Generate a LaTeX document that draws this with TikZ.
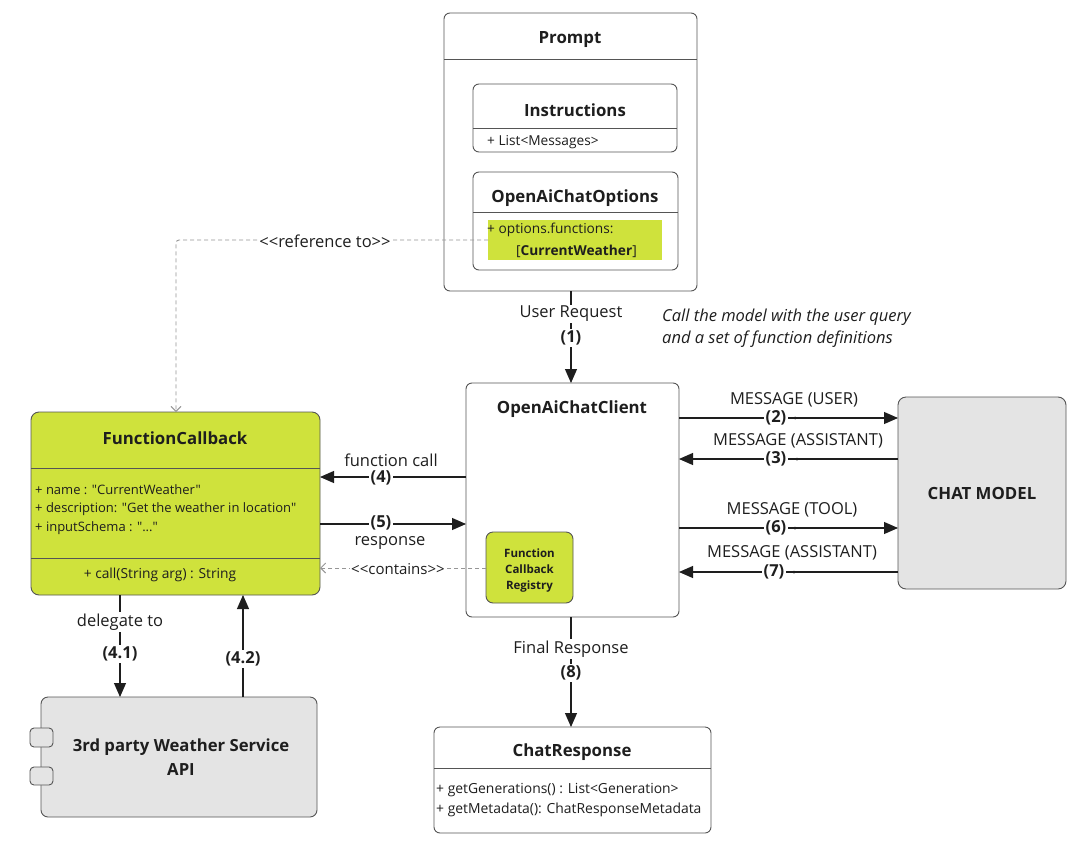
\documentclass[tikz,border=0pt]{standalone}
\usepackage{fontspec}
\setmainfont{Open Sans}[Ligatures=TeXOff]
\usetikzlibrary{arrows.meta,calc}
\definecolor{lime}{RGB}{207,226,60}
\definecolor{edgec}{RGB}{85,85,85}
\definecolor{txt}{RGB}{30,30,30}
\definecolor{grayfill}{RGB}{228,228,228}
\definecolor{dashc}{RGB}{150,150,150}
\begin{document}
\begin{tikzpicture}[x=1pt,y=-1pt,
  box/.style={draw=edgec, line width=0.9pt, rounded corners=6pt, anchor=north west, inner sep=0pt, outer sep=0pt, fill=white},
  ttl/.style={font=\fontsize{16.8}{20}\selectfont\bfseries, text=txt, inner sep=1pt},
  attr/.style={font=\fontsize{13.7}{16}\selectfont, text=txt, anchor=west, inner sep=1pt},
  lbl/.style={font=\fontsize{16.5}{19}\selectfont, text=txt, fill=white, inner sep=1.5pt},
  num/.style={font=\fontsize{16.5}{19}\selectfont\bfseries, text=txt, fill=white, inner sep=1.5pt},
  arr/.style={draw=txt, line width=1.1pt, -{Triangle[length=14pt,width=12pt]}},
  dsh/.style={draw=dashc, line width=0.9pt, dash pattern=on 4pt off 3pt, -{Straight Barb[length=5pt,width=10pt]}},
  tinydot/.style={circle, fill=txt, inner sep=0pt, minimum size=3pt}
]
\useasboundingbox (0,0) rectangle (1080,844);
\fill[white] (0,0) rectangle (1080,844);

% ---------- Prompt ----------
\node[box, minimum width=253pt, minimum height=278pt] (prompt) at (444,13) {};
\draw[edgec, line width=0.9pt] (444,59) -- (697,59);
\node[ttl] (promptT) at (570,40) {Prompt};

\node[box, minimum width=204pt, minimum height=68pt] (instr) at (473,84) {};
\draw[edgec, line width=0.9pt] (473,128) -- (677,128);
\node[ttl] (instrT) at (575,110) {Instructions};
\node[attr] (instrA) at (486,142) {+ List<Messages>};

\node[box, minimum width=205pt, minimum height=98pt] (opts) at (473,172) {};
\draw[edgec, line width=0.9pt] (473,212) -- (678,212);
\node[ttl] (optsT) at (575,198) {OpenAiChatOptions};
\node[fill=lime, anchor=north west, minimum width=174pt, minimum height=40pt, inner sep=0pt] (hl) at (488,220) {};
\node[attr] (hlA) at (486,230) {+ options.functions:};
\node[attr] (hlB) at (515,251) {[\textbf{CurrentWeather}]};

% ---------- OpenAiChatClient ----------
\node[box, minimum width=213pt, minimum height=234pt] (client) at (466,383) {};
\node[ttl] (clientT) at (572,409) {OpenAiChatClient};
\node[box, draw=edgec, fill=lime, minimum width=87pt, minimum height=71pt, rounded corners=7pt] (reg) at (486,532) {};
\node[font=\fontsize{11.5}{16}\selectfont\bfseries, text=txt, align=center] (regT) at (529.5,571) {Function\\Callback\\Registry};

% ---------- Chat model ----------
\node[box, fill=grayfill, minimum width=168pt, minimum height=192pt, rounded corners=8pt] (chat) at (898,397) {};
\node[ttl] (chatT) at (982,493) {CHAT MODEL};

% ---------- FunctionCallback ----------
\node[box, fill=lime, minimum width=289pt, minimum height=183pt, rounded corners=8pt] (fc) at (31,412) {};
\draw[edgec, line width=0.9pt] (31,468) -- (320,468);
\draw[edgec, line width=0.9pt] (31,558) -- (320,558);
\node[ttl] (fcT) at (175,438) {FunctionCallback};
\node[attr, font=\fontsize{13}{15}\selectfont] (fcA) at (34,490) {+ name : "CurrentWeather"};
\node[attr, font=\fontsize{13}{15}\selectfont] (fcB) at (34,509) {+ description: "Get the weather in location"};
\node[attr, font=\fontsize{13}{15}\selectfont] (fcC) at (34,528) {+ inputSchema : "..."};
\node[font=\fontsize{13.8}{16}\selectfont, text=txt] (fcM) at (160,575) {+ call(String arg) : String};

% ---------- Weather service ----------
\node[box, fill=grayfill, minimum width=276pt, minimum height=120pt, rounded corners=7pt] (weather) at (41,697) {};
\node[box, fill=grayfill, minimum width=23pt, minimum height=19pt, rounded corners=4pt] (tab1) at (30,728) {};
\node[box, fill=grayfill, minimum width=23pt, minimum height=18pt, rounded corners=4pt] (tab2) at (30,767) {};
\node[ttl, align=center, font=\fontsize{16.7}{24}\selectfont\bfseries] (weatherT) at (181,757) {3rd party Weather Service\\API};

% ---------- ChatResponse ----------
\node[box, minimum width=277pt, minimum height=106pt] (resp) at (434,727) {};
\draw[edgec, line width=0.9pt] (434,768) -- (711,768);
\node[ttl] (respT) at (572,752) {ChatResponse};
\node[attr, font=\fontsize{13.9}{16}\selectfont] (respA) at (435,790) {+ getGenerations() : List<Generation>};
\node[attr, font=\fontsize{13.9}{16}\selectfont] (respB) at (435,810) {+ getMetadata(): ChatResponseMetadata};

% ---------- italic note ----------
\node[font=\fontsize{16.5}{22}\selectfont\itshape, text=txt, anchor=north west, align=left, inner sep=0pt] (note) at (662,309) {Call the model with the user query\\and a set of function definitions};

% ---------- connectors ----------
\coordinate (c1) at (571,0);
\draw[arr] (prompt.south -| c1) -- (client.north -| c1);
\node[lbl] (l1a) at (571,314) {User Request};
\node[num] (l1b) at (571,338) {(1)};

\coordinate (y2) at (0,418);
\coordinate (y3) at (0,459);
\coordinate (y6) at (0,528);
\coordinate (y7) at (0,572);
\draw[arr] (client.east |- y2) -- (chat.west |- y2);
\draw[arr] (chat.west |- y3) -- (client.east |- y3);
\draw[arr] (client.east |- y6) -- (chat.west |- y6);
\draw[arr] (chat.west |- y7) -- (client.east |- y7);
\node[lbl, fill=none] (l2a) at (794,400) {MESSAGE (USER)};
\node[num] (l2b) at (776,418) {(2)};
\node[tinydot] (d2) at (795,418) {};
\node[lbl, fill=none] (l3a) at (798,441) {MESSAGE (ASSISTANT)};
\node[num] (l3b) at (776,459) {(3)};
\node[tinydot] (d3) at (797,459) {};
\node[lbl, fill=none] (l6a) at (792,510) {MESSAGE (TOOL)};
\node[num] (l6b) at (776,528) {(6)};
\node[tinydot] (d6) at (795,528) {};
\node[lbl, fill=none] (l7a) at (792,553) {MESSAGE (ASSISTANT)};
\node[num] (l7b) at (774,572) {(7)};
\node[tinydot] (d7) at (794,572) {};

\coordinate (y4) at (0,477);
\coordinate (y5) at (0,524);
\draw[arr] (client.west |- y4) -- (fc.east |- y4);
\draw[arr] (fc.east |- y5) -- (client.west |- y5);
\node[lbl, fill=none] (l4a) at (391,460) {function call};
\node[num] (l4b) at (381,478) {(4)};
\node[num] (l5b) at (381,523) {(5)};
\node[lbl, fill=none] (l5a) at (390,543) {response};

% contains
\draw[dsh] (reg.west |- 0,568) -- (fc.east |- 0,568);
\node[lbl, font=\fontsize{15}{17}\selectfont] (lc) at (398,569) {<{}<contains>{}>};

% reference to
\coordinate (rc) at (176,240);
\draw[dsh, rounded corners=3pt] (hl.west |- rc) -- (rc) -- (fc.north -| rc);
\node[lbl] (lr) at (325,241) {<{}<reference to>{}>};

% delegate
\coordinate (xd) at (120,0);
\coordinate (xu) at (243,0);
\draw[arr] (fc.south -| xd) -- (weather.north -| xd);
\draw[arr] (weather.north -| xu) -- (fc.south -| xu);
\node[lbl] (ld) at (120,622) {delegate to};
\node[num] (ld1) at (120,654) {(4.1)};
\node[num] (ld2) at (243,659) {(4.2)};

% final
\draw[arr] (client.south -| c1) -- (resp.north -| c1);
\node[lbl] (lf) at (571,649) {Final Response};
\node[num] (lf8) at (571,673) {(8)};
\end{tikzpicture}
\end{document}
